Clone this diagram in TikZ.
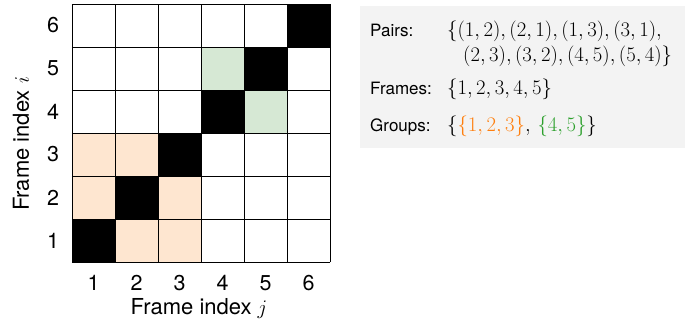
\documentclass[tikz,border=0pt]{standalone}
\usepackage{fontspec}
\setmainfont{TeX Gyre Heros}
\usetikzlibrary{positioning}
\definecolor{tabOrange}{HTML}{FF7F0E}
\definecolor{tabGreen}{HTML}{2CA02C}
\definecolor{lightOrange}{HTML}{FEE6D0}
\definecolor{lightGreen}{HTML}{D6E8D4}
\definecolor{panelGray}{HTML}{F3F3F3}
\tikzset{
  diag/.style={fill=black},
  groupA/.style={fill=lightOrange},
  groupB/.style={fill=lightGreen},
  tick/.style={font=\fontsize{21.5}{25}\selectfont, inner sep=0pt},
  axislabel/.style={font=\fontsize{22}{26}\selectfont, inner sep=0pt},
  panel/.style={fill=panelGray},
  info/.style={font=\fontsize{17}{20}\selectfont, anchor=base west, inner sep=0pt},
  infomath/.style={info, font=\fontsize{19.5}{23}\selectfont},
}

\begin{document}
\begin{tikzpicture}[x=1pt, y=1pt]
  \useasboundingbox (-72,-65) rectangle (619,262);
  \foreach \j/\i in {1/2,2/1,1/3,3/1,2/3,3/2}
    \fill[groupA] ({43*(\j-1)},{43*(\i-1)}) rectangle ++(43,43);
  \foreach \j/\i in {4/5,5/4}
    \fill[groupB] ({43*(\j-1)},{43*(\i-1)}) rectangle ++(43,43);
  \foreach \k in {1,...,6}
    \fill[diag] ({43*(\k-1)},{43*(\k-1)}) rectangle ++(43,43);
  \draw[line width=0.9pt] (0,0) grid[step=43] (258,258);

  \foreach \k in {1,...,6} {
    \node[tick] (j\k) at ({43*\k-21.5},-21) {\k};
    \node[tick] (i\k) at (-19,{43*\k-21.5}) {\k};
  }
  \node[axislabel] (xlab) at (127,-46) {Frame index $j$};
  \node[axislabel, rotate=90] (ylab) at (-51,118) {Frame index $i$};

  \fill[panel] (288,114) rectangle (613,256);
  \node[info] (pairsLab) at (298,225) {Pairs:};
  \node[infomath] (pairsA) at (375,225) {$\{(1,2),(2,1),(1,3),(3,1),$};
  \node[infomath] (pairsB) at (391,200) {$(2,3),(3,2),(4,5),(5,4)\}$};
  \node[info] (framesLab) at (298,167) {Frames:};
  \node[infomath] (framesSet) at (375,167) {$\{1,2,3,4,5\}$};
  \node[info] (groupsLab) at (298,130) {Groups:};
  \node[infomath] (groupsSet) at (375,130) {$\{\textcolor{tabOrange}{\{1,2,3\}},\,\textcolor{tabGreen}{\{4,5\}}\}$};
\end{tikzpicture}
\end{document}
